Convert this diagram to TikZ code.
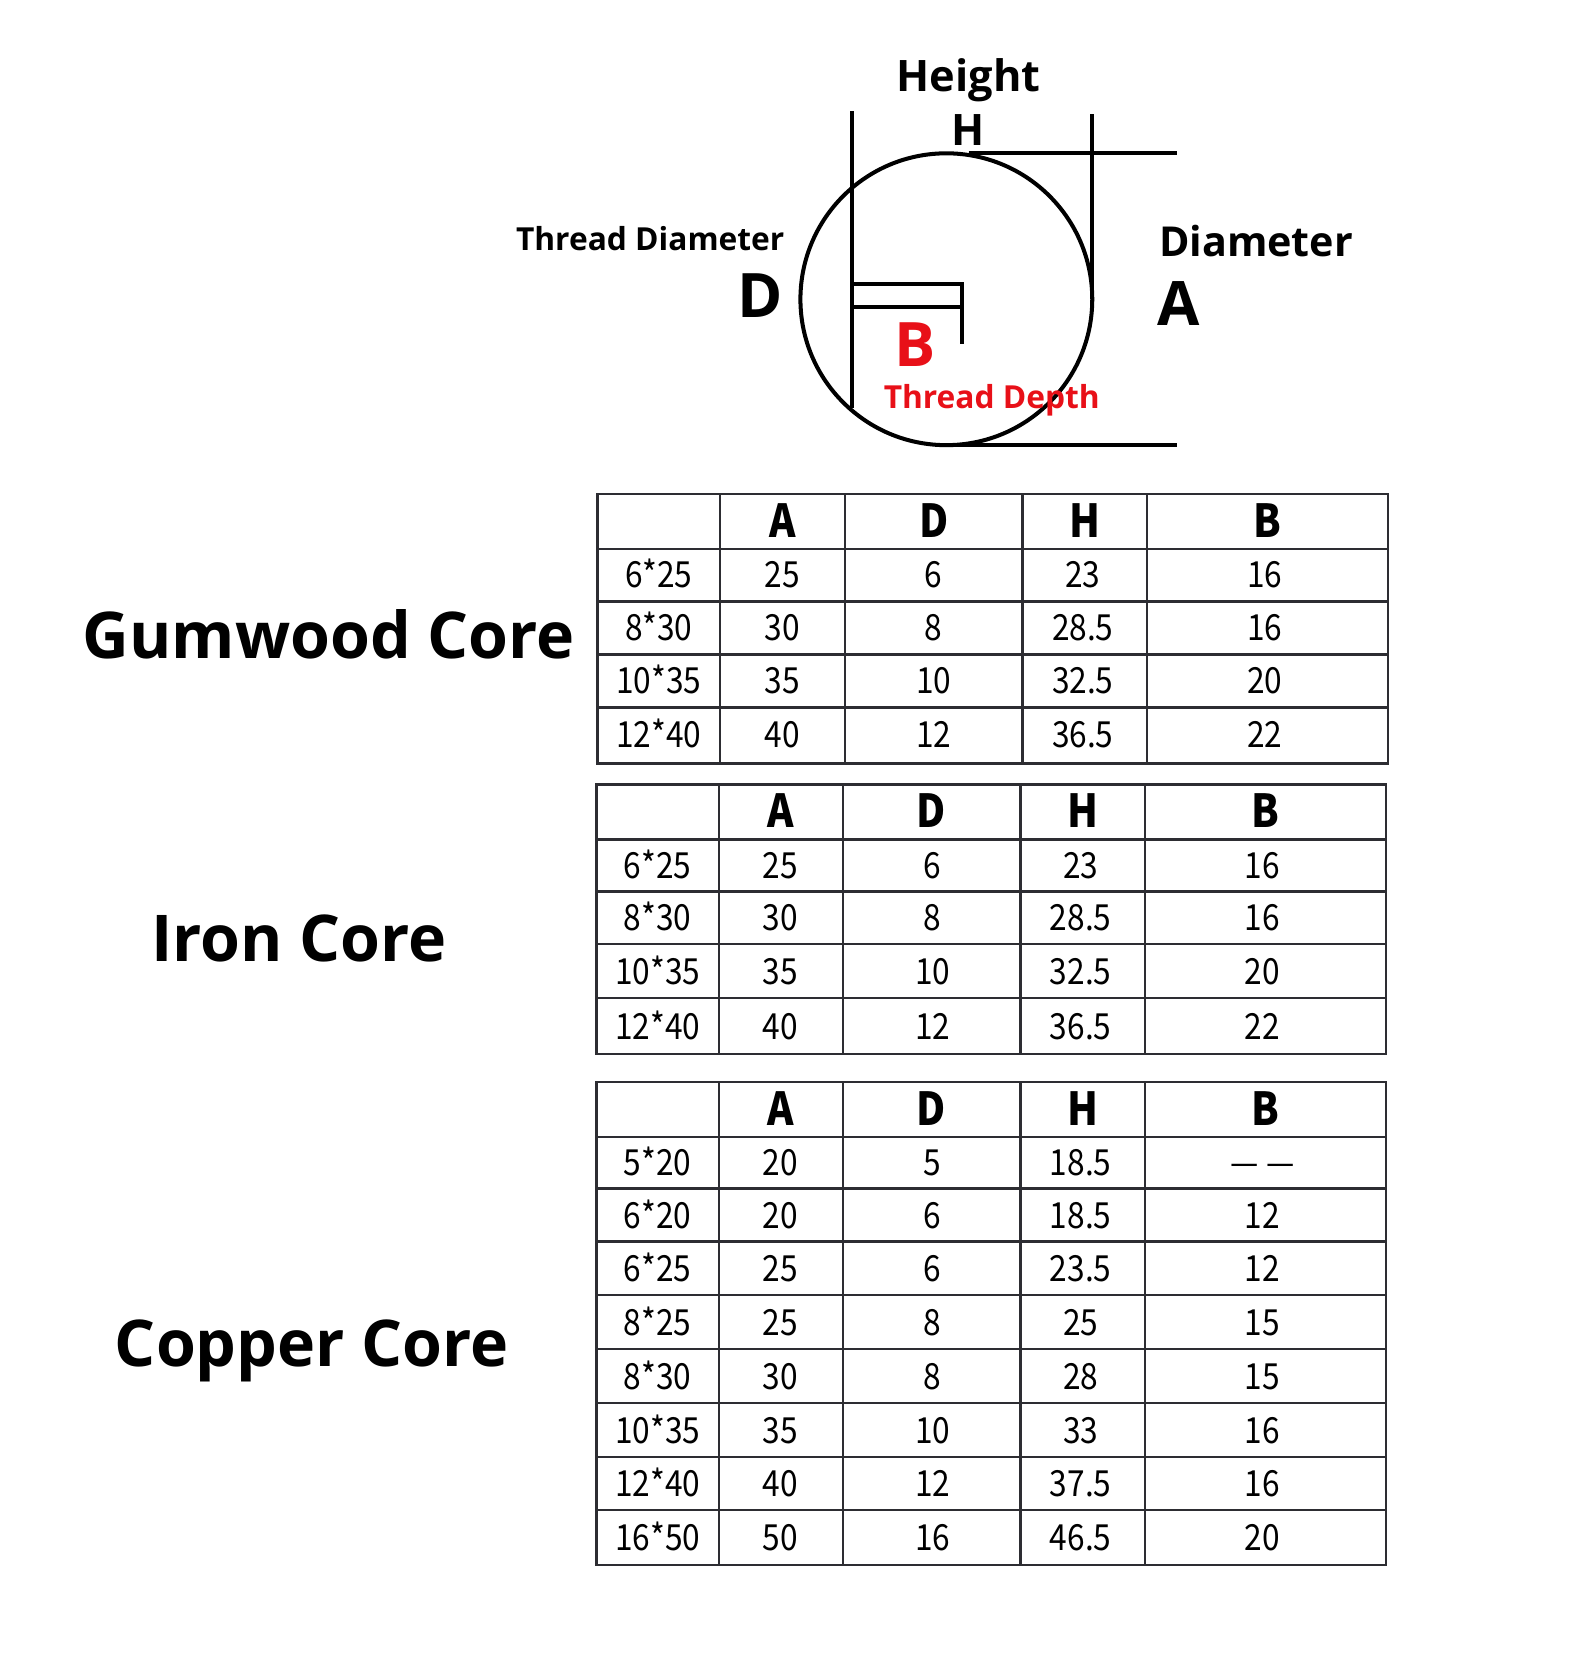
\documentclass[tikz,border=0pt]{standalone}
\usepackage{fontspec}
\setmainfont{Open Sans}
\newfontfamily\cellfont[FakeStretch=0.88]{Noto Sans CJK SC}
\definecolor{tred}{RGB}{232,16,24}
\definecolor{tgrid}{RGB}{45,45,50}
\tikzset{
  dline/.style={line width=3.8, black},
  tline/.style={line width=2.2, tgrid},
  bigbold/.style={font=\bfseries\fontsize{58}{60}\selectfont, inner sep=0},
  lbl/.style={font=\bfseries\fontsize{#1}{#1}\selectfont, inner sep=0},
  corelbl/.style={font=\bfseries\fontsize{61}{64}\selectfont, inner sep=0},
  hcell/.style={font=\cellfont\bfseries\fontsize{43}{44}\selectfont, inner sep=0, text height=30, text depth=0},
  dcell/.style={font=\cellfont\fontsize{34}{36}\selectfont, inner sep=0, text height=24, text depth=0},
}
\begin{document}
\begin{tikzpicture}[x=1pt,y=-1pt]
\useasboundingbox (0,0) rectangle (1487,1569);
% ---------- diagram ----------
\node[lbl=41] (height) at (916,76) {Height};
\node[lbl=41] (hlab) at (916,123) {H};
\draw[dline] (895,283) circle (138);
\coordinate (lt) at (806,105);
\coordinate (lb) at (806,386);
\coordinate (rt) at (1033,108);
\coordinate (rb) at (1033,283);
\coordinate (tl) at (916,145);
\coordinate (tr) at (1113,145);
\coordinate (bl) at (895,421);
\coordinate (br) at (1113,421);
\draw[dline] (lt) -- (lb);
\draw[dline] (rt) -- (rb);
\draw[dline] (tl) -- (tr);
\draw[dline] (bl) -- (br);
\coordinate (b1) at (806,269);
\coordinate (b2) at (910,269);
\coordinate (b3) at (910,325);
\coordinate (b4) at (806,290);
\coordinate (b5) at (910,290);
\draw[dline] (b1) -- (b2) -- (b3);
\draw[dline] (b4) -- (b5);
\node[lbl=30, anchor=east] (tdiam) at (742,226) {Thread Diameter};
\node[bigbold] (dlab) at (719,280) {D};
\node[lbl=39, anchor=west] (diam) at (1096,228) {Diameter};
\node[bigbold] (alab) at (1115,287) {A};
\node[bigbold, text=tred] (blab) at (865,326) {B};
\node[lbl=30, text=tred] (tdepth) at (938,379) {Thread Depth};
% ---------- labels ----------
\node[corelbl] (gum) at (311,600) {Gumwood Core};
\node[corelbl] (iron) at (283,888) {Iron Core};
\node[corelbl] (copper) at (295,1278) {Copper Core};
% ---------- Gumwood table ----------
\draw[tline] (565,467) rectangle (1313,722);
\foreach \y in {519,569,619,669} \draw[tline] (565,\y) -- (1313,\y);
\foreach \x in {681,799,967,1085} \draw[tline] (\x,467) -- (\x,722);
\foreach \t [count=\i] in {A,D,H,B}
  \pgfmathsetmacro{\cx}{{0,740,883,1026,1199}[\i]}
  \node[hcell] (g-h-\i) at (\cx,493) {\t};
\foreach \a/\b/\c/\d/\e [count=\r] in {6*25/25/6/23/16, 8*30/30/8/28.5/16, 10*35/35/10/32.5/20, 12*40/40/12/36.5/22}{
  \pgfmathsetmacro{\cy}{{0,544,594,644,695}[\r]}
  \node[dcell] (g-\r-1) at (623,\cy) {\a};
  \node[dcell] (g-\r-2) at (740,\cy) {\b};
  \node[dcell] (g-\r-3) at (883,\cy) {\c};
  \node[dcell] (g-\r-4) at (1024,\cy) {\d};
  \node[dcell] (g-\r-5) at (1196,\cy) {\e};
}
% ---------- Iron table ----------
\draw[tline] (564,742) rectangle (1311,997);
\foreach \y in {794,843,893,944} \draw[tline] (564,\y) -- (1311,\y);
\foreach \x in {680,797,965,1083} \draw[tline] (\x,742) -- (\x,997);
\foreach \t [count=\i] in {A,D,H,B}
  \pgfmathsetmacro{\cx}{{0,738,881,1024,1197}[\i]}
  \node[hcell] (i-h-\i) at (\cx,768) {\t};
\foreach \a/\b/\c/\d/\e [count=\r] in {6*25/25/6/23/16, 8*30/30/8/28.5/16, 10*35/35/10/32.5/20, 12*40/40/12/36.5/22}{
  \pgfmathsetmacro{\cy}{{0,819,868,919,971}[\r]}
  \node[dcell] (i-\r-1) at (622,\cy) {\a};
  \node[dcell] (i-\r-2) at (738,\cy) {\b};
  \node[dcell] (i-\r-3) at (882,\cy) {\c};
  \node[dcell] (i-\r-4) at (1022,\cy) {\d};
  \node[dcell] (i-\r-5) at (1194,\cy) {\e};
}
% ---------- Copper table ----------
\draw[tline] (564,1023) rectangle (1311,1480);
\foreach \y in {1075,1124,1174,1225,1276,1327,1378,1428} \draw[tline] (564,\y) -- (1311,\y);
\foreach \x in {680,797,965,1083} \draw[tline] (\x,1023) -- (\x,1480);
\foreach \t [count=\i] in {A,D,H,B}
  \pgfmathsetmacro{\cx}{{0,738,881,1024,1197}[\i]}
  \node[hcell] (c-h-\i) at (\cx,1049) {\t};
\foreach \a/\b/\c/\d/\e [count=\r] in {5*20/20/5/18.5/{— —}, 6*20/20/6/18.5/12, 6*25/25/6/23.5/12, 8*25/25/8/25/15, 8*30/30/8/28/15, 10*35/35/10/33/16, 12*40/40/12/37.5/16, 16*50/50/16/46.5/20}{
  \pgfmathsetmacro{\cy}{{0,1100,1150,1200,1251,1302,1353,1403,1454}[\r]}
  \node[dcell] (c-\r-1) at (622,\cy) {\a};
  \node[dcell] (c-\r-2) at (738,\cy) {\b};
  \node[dcell] (c-\r-3) at (882,\cy) {\c};
  \node[dcell] (c-\r-4) at (1022,\cy) {\d};
  \node[dcell] (c-\r-5) at (1194,\cy) {\e};
}
\end{tikzpicture}
\end{document}
